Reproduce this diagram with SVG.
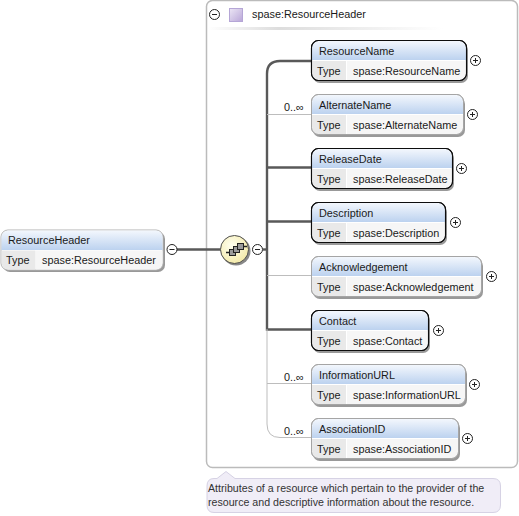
<svg xmlns="http://www.w3.org/2000/svg" width="519" height="516" viewBox="0 0 519 516">
<style>
text{font-family:"Liberation Sans",Arial,sans-serif;font-size:10.85px;fill:#1a1a1a}
.o{fill:#fff;stroke:#a5a5a5;stroke-width:1}
.r{fill:#fff;stroke:#0d0d0d;stroke-width:1.1}
.tc{fill:#e9e9e9}
.vc{fill:#f6f6f6}
.h{fill:url(#hg)}
.btn{fill:#fff;stroke:#222;stroke-width:1}
.bl{stroke:#222;stroke-width:1;fill:none}
.thick{fill:none;stroke:#595959;stroke-width:2.4}
.thin{fill:none;stroke:#bdbdbd;stroke-width:1}
.ann{font-size:10.65px;fill:#333}
.sq{fill:#9a9a9a;stroke:#222}
.front{fill:none;stroke:#0d0d0d;stroke-width:1.1}
.back{fill:none;stroke:#a5a5a5}
.sh{fill:#999}
</style>
<defs>
<linearGradient id="hg" x1="0" y1="0" x2="0" y2="1"><stop offset="0" stop-color="#f3f7fd"/><stop offset="1" stop-color="#bcd2ef"/></linearGradient>
<linearGradient id="pg" x1="0" y1="0" x2="1" y2="1"><stop offset="0" stop-color="#ece6f5"/><stop offset="1" stop-color="#b9a6d8"/></linearGradient>
<linearGradient id="sep" x1="0" y1="0" x2="1" y2="0"><stop offset="0" stop-color="#fff"/><stop offset=".3" stop-color="#ddd"/><stop offset="1" stop-color="#fff"/></linearGradient>
<radialGradient id="yg" cx=".4" cy=".35" r=".7"><stop offset="0" stop-color="#fffff0"/><stop offset="1" stop-color="#f3e9a6"/></radialGradient>
</defs>

<g id="type-box">
<rect x="206.500" y="0.500" width="311" height="467" rx="6" fill="#fff" stroke="#bbb" stroke-width="1.500"/>
<rect x="208" y="27" width="235" height="3" fill="url(#sep)"/>
<circle cx="214.500" cy="14.500" r="5" class="btn"/><path d="M212 14.500h5" class="bl"/>
<rect x="229.500" y="8.500" width="13" height="13" fill="url(#pg)" stroke="#b5a6d6"/>
<text x="252" y="18">spase:ResourceHeader</text>
</g>

<g id="connectors">
<path class="thick" d="M172 249.500H221"/>
<path class="thick" d="M263 249.500H267"/>
<path class="thick" d="M311 61H280Q267 61 267 74V329.500H311"/>
<path class="thick" d="M267 167.500H311M267 221.500H311"/>
<path class="thin" d="M267 114.500H311M267 275.500H311M267 383.500H311M267 329V424Q267 437.500 280 437.500H311"/>
<text x="284" y="111">0..∞</text>
<text x="284" y="381">0..∞</text>
<text x="284" y="435">0..∞</text>
</g>

<g id="ResourceHeader">
<rect x="3" y="232" width="162" height="40" rx="7" class="sh"/>
<rect x="1" y="230" width="162" height="40" rx="7" fill="#fff" stroke="#b0b0b0"/>
<path class="h" d="M1.500 250V237a6.500 6.500 0 0 1 6.500-6.500H156a6.500 6.500 0 0 1 6.500 6.500V250z"/>
<path class="tc" d="M1.500 250.500H35.500V269.500H8a6.500 6.500 0 0 1-6.500-6.500z"/>
<path class="vc" d="M36 250.500H162.500V263a6.500 6.500 0 0 1-6.500 6.500H36z"/>
<text x="8" y="244">ResourceHeader</text><text x="6" y="264">Type</text><text x="42" y="264">spase:ResourceHeader</text>
<circle cx="172" cy="249.500" r="5" class="btn"/><path d="M169.500 249.500h5" class="bl"/>
</g>

<g id="sequence">
<circle cx="236" cy="251" r="14.500" fill="#888"/>
<circle cx="234.500" cy="249.500" r="14" fill="url(#yg)" stroke="#4d4d4d"/>
<path d="M226 252.500H230M243 246.500H247" stroke="#222" stroke-width="1.500" fill="none"/>
<rect x="229.500" y="249.500" width="6" height="6" class="sq"/><rect x="233.500" y="246.500" width="6" height="6" class="sq"/><rect x="237.500" y="243.500" width="6" height="6" class="sq"/>
<circle cx="257.500" cy="249.500" r="5" class="btn"/><path d="M255 249.500h5" class="bl"/>
</g>

<g id="ResourceName">
<rect x="313" y="43" width="155" height="40" rx="7" class="sh"/>
<rect x="311.500" y="40.500" width="155" height="40" rx="7" class="r"/>
<path class="h" d="M312 60V48a7 7 0 0 1 7-7H459a7 7 0 0 1 7 7V60z"/>
<path class="tc" d="M312 61H346V80H319a7 7 0 0 1-7-7z"/><path class="vc" d="M347 61H466V73a7 7 0 0 1-7 7H347z"/>
<rect x="311.500" y="40.500" width="155" height="40" rx="7" class="front"/>
<text x="319" y="55">ResourceName</text><text x="317" y="75">Type</text><text x="353" y="75">spase:ResourceName</text>
<circle cx="475.500" cy="60.500" r="5" class="btn"/><path d="M473 60.500h5M475.500 58v5" class="bl"/>
</g>

<g id="AlternateName">
<rect x="313" y="97" width="152" height="40" rx="7" class="sh"/>
<rect x="311.500" y="94.500" width="152" height="40" rx="7" class="o"/>
<path class="h" d="M312 114V102a7 7 0 0 1 7-7H456a7 7 0 0 1 7 7V114z"/>
<path class="tc" d="M312 115H346V134H319a7 7 0 0 1-7-7z"/><path class="vc" d="M347 115H463V127a7 7 0 0 1-7 7H347z"/>
<rect x="311.500" y="94.500" width="152" height="40" rx="7" class="back"/>
<text x="319" y="109">AlternateName</text><text x="317" y="129">Type</text><text x="353" y="129">spase:AlternateName</text>
<circle cx="472.500" cy="114.500" r="5" class="btn"/><path d="M470 114.500h5M472.500 112v5" class="bl"/>
</g>

<g id="ReleaseDate">
<rect x="313" y="151" width="141" height="40" rx="7" class="sh"/>
<rect x="311.500" y="148.500" width="141" height="40" rx="7" class="r"/>
<path class="h" d="M312 168V156a7 7 0 0 1 7-7H445a7 7 0 0 1 7 7V168z"/>
<path class="tc" d="M312 169H346V188H319a7 7 0 0 1-7-7z"/><path class="vc" d="M347 169H452V181a7 7 0 0 1-7 7H347z"/>
<rect x="311.500" y="148.500" width="141" height="40" rx="7" class="front"/>
<text x="319" y="163">ReleaseDate</text><text x="317" y="183">Type</text><text x="353" y="183">spase:ReleaseDate</text>
<circle cx="461.500" cy="168.500" r="5" class="btn"/><path d="M459 168.500h5M461.500 166v5" class="bl"/>
</g>

<g id="Description">
<rect x="313" y="205" width="134" height="40" rx="7" class="sh"/>
<rect x="311.500" y="202.500" width="134" height="40" rx="7" class="r"/>
<path class="h" d="M312 222V210a7 7 0 0 1 7-7H438a7 7 0 0 1 7 7V222z"/>
<path class="tc" d="M312 223H346V242H319a7 7 0 0 1-7-7z"/><path class="vc" d="M347 223H445V235a7 7 0 0 1-7 7H347z"/>
<rect x="311.500" y="202.500" width="134" height="40" rx="7" class="front"/>
<text x="319" y="217">Description</text><text x="317" y="237">Type</text><text x="353" y="237">spase:Description</text>
<circle cx="455.500" cy="222.500" r="5" class="btn"/><path d="M453 222.500h5M455.500 220v5" class="bl"/>
</g>

<g id="Acknowledgement">
<rect x="313" y="259" width="170" height="40" rx="7" class="sh"/>
<rect x="311.500" y="256.500" width="170" height="40" rx="7" class="o"/>
<path class="h" d="M312 276V264a7 7 0 0 1 7-7H474a7 7 0 0 1 7 7V276z"/>
<path class="tc" d="M312 277H346V296H319a7 7 0 0 1-7-7z"/><path class="vc" d="M347 277H481V289a7 7 0 0 1-7 7H347z"/>
<rect x="311.500" y="256.500" width="170" height="40" rx="7" class="back"/>
<text x="319" y="271">Acknowledgement</text><text x="317" y="291">Type</text><text x="353" y="291">spase:Acknowledgement</text>
<circle cx="491.500" cy="276.500" r="5" class="btn"/><path d="M489 276.500h5M491.500 274v5" class="bl"/>
</g>

<g id="Contact">
<rect x="313" y="313" width="117" height="40" rx="7" class="sh"/>
<rect x="311.500" y="310.500" width="117" height="40" rx="7" class="r"/>
<path class="h" d="M312 330V318a7 7 0 0 1 7-7H421a7 7 0 0 1 7 7V330z"/>
<path class="tc" d="M312 331H346V350H319a7 7 0 0 1-7-7z"/><path class="vc" d="M347 331H428V343a7 7 0 0 1-7 7H347z"/>
<rect x="311.500" y="310.500" width="117" height="40" rx="7" class="front"/>
<text x="319" y="325">Contact</text><text x="317" y="345">Type</text><text x="353" y="345">spase:Contact</text>
<circle cx="438.500" cy="330.500" r="5" class="btn"/><path d="M436 330.500h5M438.500 328v5" class="bl"/>
</g>

<g id="InformationURL">
<rect x="313" y="367" width="154" height="40" rx="7" class="sh"/>
<rect x="311.500" y="364.500" width="154" height="40" rx="7" class="o"/>
<path class="h" d="M312 384V372a7 7 0 0 1 7-7H458a7 7 0 0 1 7 7V384z"/>
<path class="tc" d="M312 385H346V404H319a7 7 0 0 1-7-7z"/><path class="vc" d="M347 385H465V397a7 7 0 0 1-7 7H347z"/>
<rect x="311.500" y="364.500" width="154" height="40" rx="7" class="back"/>
<text x="319" y="379">InformationURL</text><text x="317" y="399">Type</text><text x="353" y="399">spase:InformationURL</text>
<circle cx="474.500" cy="384.500" r="5" class="btn"/><path d="M472 384.500h5M474.500 382v5" class="bl"/>
</g>

<g id="AssociationID">
<rect x="313" y="421" width="147" height="40" rx="7" class="sh"/>
<rect x="311.500" y="418.500" width="147" height="40" rx="7" class="o"/>
<path class="h" d="M312 438V426a7 7 0 0 1 7-7H451a7 7 0 0 1 7 7V438z"/>
<path class="tc" d="M312 439H346V458H319a7 7 0 0 1-7-7z"/><path class="vc" d="M347 439H458V451a7 7 0 0 1-7 7H347z"/>
<rect x="311.500" y="418.500" width="147" height="40" rx="7" class="back"/>
<text x="319" y="433">AssociationID</text><text x="317" y="453">Type</text><text x="353" y="453">spase:AssociationID</text>
<circle cx="467.500" cy="438.500" r="5" class="btn"/><path d="M465 438.500h5M467.500 436v5" class="bl"/>
</g>

<g id="annotation">
<path d="M207 486Q207 478.500 214 478.500H217L226 471.500L235 478.500H493Q500.500 478.500 500.500 486V505Q500.500 512.500 493 512.500H214Q207 512.500 207 505Z" fill="#f0edf7" stroke="#d6d2e4"/>
<text x="208" y="492" class="ann">Attributes of a resource which pertain to the provider of the</text>
<text x="208" y="506" class="ann">resource and descriptive information about the resource.</text>
</g>
</svg>
